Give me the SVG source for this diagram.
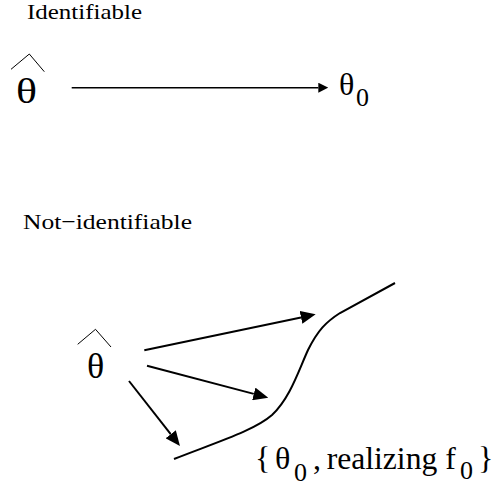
<svg xmlns="http://www.w3.org/2000/svg" width="504" height="487" viewBox="0 0 504 487">
<style>
text { font-family: 'Liberation Serif', 'Times New Roman', Times, serif; fill: #000; }
.title { font-size: 22px; }
.big { font-size: 36px; }
.lbl { font-size: 32px; }
.sub { font-size: 26px; }
.hat { fill: none; stroke: #000; stroke-width: 1; }
.conn { fill: none; stroke: #000; stroke-width: 2; }
.thin { stroke-width: 1.5; }
</style>
<defs>
<marker id="ahSmall" markerUnits="userSpaceOnUse" markerWidth="10" markerHeight="10" refX="0" refY="5" orient="auto">
<path d="M0,0 L10,5 L0,10 z" fill="#000"/>
</marker>
<marker id="ahBig" markerUnits="userSpaceOnUse" markerWidth="15" markerHeight="13" refX="0" refY="6.5" orient="auto">
<path d="M0,0 L15,6.5 L0,13 z" fill="#000"/>
</marker>
</defs>
<g font-family="Liberation Serif, serif">
<g id="title-identifiable">
<text class="title" x="27" y="19.3" style="font-size:21.5px" textLength="115" lengthAdjust="spacingAndGlyphs">Identifiable</text>
</g>
<g id="node-thetahat-top">
<polyline class="hat" points="11,69.3 29.3,54 44.3,71.7"/>
<text class="big" x="16" y="103" textLength="21" lengthAdjust="spacingAndGlyphs">θ</text>
</g>
<g id="node-theta0-top">
<text x="339" y="95" style="font-size:32px">θ</text>
<text x="356" y="106" style="font-size:26px">0</text>
</g>
<g id="title-notidentifiable">
<text class="title" x="23" y="229" textLength="169" lengthAdjust="spacingAndGlyphs">Not−identifiable</text>
</g>
<g id="node-thetahat-bottom">
<polyline class="hat" points="77.7,344.3 95.5,329.3 111,347"/>
<text class="big" x="87" y="378">θ</text>
</g>
<g id="node-set">
<path class="conn" d="M174,459 C220,441 255,430 272,415 C290,398 298,372 308,350 C318,330 326,322 340,313 L395,283"/>
<text class="lbl" x="255" y="469">{</text>
<text x="275" y="469" style="font-size:32px">θ</text>
<text class="sub" x="294" y="481">0</text>
<text class="lbl" x="313" y="469">,</text>
<text class="lbl" x="326.7" y="469" textLength="129" lengthAdjust="spacingAndGlyphs">realizing f</text>
<text class="sub" x="460" y="479">0</text>
<text class="lbl" x="478" y="469">}</text>
</g>
</g>
<g id="connectors">
<line class="conn thin" x1="71.7" y1="87.7" x2="318.3" y2="87.7" marker-end="url(#ahSmall)"/>
<line class="conn" x1="144.3" y1="350.3" x2="301" y2="317.4" marker-end="url(#ahBig)"/>
<line class="conn" x1="147" y1="365.7" x2="253.8" y2="393.9" marker-end="url(#ahBig)"/>
<line class="conn" x1="129" y1="381" x2="170.7" y2="434.2" marker-end="url(#ahBig)"/>
</g>
</svg>
